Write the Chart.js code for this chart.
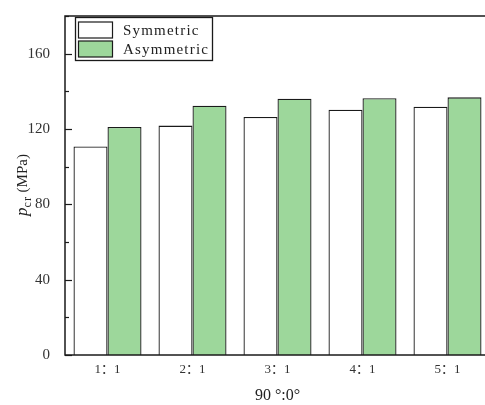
<!DOCTYPE html>
<html>
<head>
<meta charset="utf-8">
<script src="https://cdn.jsdelivr.net/npm/chart.js@4/dist/chart.umd.min.js"></script>
<style>
  html, body { margin: 0; padding: 0; background: #fff; overflow: hidden; }
  #wrap { width: 500px; height: 405px; }
</style>
</head>
<body>
<div id="wrap"><canvas id="chart" width="500" height="405"></canvas></div>
<script>
  const categories = ["1：1", "2：1", "3：1", "4：1", "5：1"];
  const symmetric = [110.7, 121.8, 126.4, 130.2, 131.8];
  const asymmetric = [121.1, 132.4, 136.1, 136.3, 136.8];
  const yLabels = [0, 40, 80, 120, 160];
  const seriesNames = ["Symmetric", "Asymmetric"];

  const INK = "#1a1a1a";
  const GREEN = "#9dd79b";

  // frame, inward ticks, y title and the boxed legend
  const decor = {
    id: "decor",
    afterDraw(chart) {
      const { ctx, chartArea: a } = chart;
      const y = chart.scales.y;
      ctx.save();
      ctx.strokeStyle = INK;
      ctx.lineWidth = 1.5;
      ctx.strokeRect(a.left, a.top, a.right - a.left, a.bottom - a.top);

      ctx.lineWidth = 1.2;
      y.ticks.forEach((t) => {
        const py = Math.round(y.getPixelForValue(t.value)) + 0.5;
        const len = yLabels.includes(t.value) ? 7 : 4;
        ctx.beginPath();
        ctx.moveTo(a.left, py);
        ctx.lineTo(a.left + len, py);
        ctx.stroke();
      });

      // y title: italic p with subscript cr
      ctx.translate(22, 185);
      ctx.rotate(-Math.PI / 2);
      ctx.fillStyle = "#222";
      ctx.textBaseline = "alphabetic";
      const parts = [
        { t: "p", f: "italic 17px 'Liberation Serif'", dy: 0, sp: "0px" },
        { t: "cr", f: "12px 'Liberation Serif'", dy: 4, sp: "1px" },
        { t: " (MPa)", f: "15px 'Liberation Serif'", dy: 0, sp: "0px" }
      ];
      let total = 0;
      parts.forEach((p) => {
        ctx.font = p.f;
        ctx.letterSpacing = p.sp;
        total += ctx.measureText(p.t).width;
      });
      let x = -total / 2;
      parts.forEach((p) => {
        ctx.font = p.f;
        ctx.letterSpacing = p.sp;
        ctx.fillText(p.t, x, 5 + p.dy);
        x += ctx.measureText(p.t).width;
      });
      ctx.restore();

      // legend
      ctx.save();
      ctx.strokeStyle = INK;
      ctx.lineWidth = 1.3;
      ctx.strokeRect(75.5, 17.5, 137, 43);
      chart.data.datasets.forEach((ds, i) => {
        const top = 22 + i * 19;
        ctx.fillStyle = ds.backgroundColor;
        ctx.fillRect(78.5, top, 34, 16);
        ctx.strokeStyle = INK;
        ctx.lineWidth = 1.2;
        ctx.strokeRect(78.5, top, 34, 16);
        ctx.fillStyle = "#222";
        ctx.font = "15px 'Liberation Serif'";
        ctx.letterSpacing = "1.2px";
        ctx.textBaseline = "middle";
        ctx.fillText(ds.label, 123, top + 9);
      });
      ctx.restore();
    }
  };

  new Chart(document.getElementById("chart"), {
    type: "bar",
    data: {
      labels: categories,
      datasets: [
        {
          label: seriesNames[0],
          data: symmetric,
          backgroundColor: "#ffffff",
          borderColor: INK,
          borderWidth: 1.3,
          categoryPercentage: 0.8,
          barPercentage: 1
        },
        {
          label: seriesNames[1],
          data: asymmetric,
          backgroundColor: GREEN,
          borderColor: INK,
          borderWidth: 1.3,
          categoryPercentage: 0.8,
          barPercentage: 1
        }
      ]
    },
    options: {
      responsive: false,
      animation: false,
      layout: { padding: { top: 11, right: 10, left: 0, bottom: 0 } },
      plugins: { legend: { display: false }, tooltip: { enabled: false } },
      scales: {
        x: {
          grid: { display: false },
          border: { display: false },
          ticks: {
            color: "#333",
            padding: 0,
            font: { family: "'Liberation Serif', 'Noto Sans CJK SC'", size: 13, lineHeight: 1 }
          },
          title: {
            display: true,
            text: "90 °:0°",
            color: "#222",
            font: { family: "'Liberation Serif'", size: 16 },
            padding: { top: 0, bottom: 0 }
          },
          afterFit: (s) => { s.height = 50; }
        },
        y: {
          min: 0,
          max: 180,
          grid: { display: false },
          border: { display: false },
          ticks: {
            stepSize: 20,
            padding: 7,
            color: "#333",
            font: { family: "'Liberation Serif'", size: 15 },
            callback: (v) => (yLabels.includes(v) ? v : "")
          },
          afterFit: (s) => { s.width = 65; }
        }
      }
    },
    plugins: [decor]
  });
</script>
</body>
</html>
